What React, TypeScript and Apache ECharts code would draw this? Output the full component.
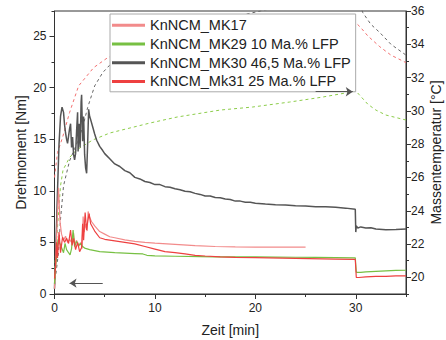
import React, { useEffect, useRef } from 'react';
import * as echarts from 'echarts';

// ---- names ----
const seriesNames = ['KnNCM_MK17', 'KnNCM_MK29 10 Ma.% LFP', 'KnNCM_MK30 46,5 Ma.% LFP', 'KnNCM_Mk31 25 Ma.% LFP'];

// ---- ticks ----
const xMajorTicks = [0, 10, 20, 30];
const yLeftMajorTicks = [0, 5, 10, 15, 20, 25];
const yRightMajorTicks = [20, 22, 24, 26, 28, 30, 32, 34, 36];

// ---- torque (left axis) ----
const mk17Time = [0, 0.15, 0.3, 0.4, 0.55, 0.7, 0.9, 1.1, 1.3, 1.5, 1.7, 1.9, 2.0, 2.2, 2.4, 2.6, 2.75, 2.85, 2.95, 3.1, 3.25, 3.35, 3.5, 3.7, 4.0, 4.5, 5, 5.5, 6, 7, 8, 9, 10, 12, 14, 16, 18, 20, 22, 24, 25];
const mk17Torque = [0.5, 4, 8, 10.3, 7, 5.8, 5.2, 5.6, 5.0, 5.3, 5.0, 5.9, 4.8, 5.2, 4.6, 5.0, 4.4, 7.5, 6.0, 6.8, 6.1, 8.0, 7.4, 7.0, 6.6, 6.05, 5.8, 5.55, 5.45, 5.25, 5.1, 5.0, 4.92, 4.8, 4.68, 4.6, 4.56, 4.55, 4.55, 4.55, 4.55];

const mk29Time = [0, 0.1, 0.25, 0.35, 0.5, 0.7, 0.9, 1.05, 1.2, 1.4, 1.55, 1.7, 1.85, 2.0, 2.2, 2.4, 2.6, 2.8, 3.0, 3.5, 4.5, 6, 8, 8.8, 9.2, 10, 12, 14.5, 16, 18, 20, 22, 24, 26, 28, 29.95, 30.05, 30.5, 31, 32, 33, 34, 35];
const mk29Torque = [1.0, 2.5, 4.2, 5.3, 5.0, 4.5, 4.0, 4.9, 4.3, 4.0, 3.8, 4.4, 6.2, 4.6, 5.1, 4.7, 4.9, 4.6, 4.45, 4.3, 4.1, 4.0, 3.92, 3.88, 3.75, 3.7, 3.66, 3.62, 3.6, 3.6, 3.6, 3.58, 3.56, 3.55, 3.53, 3.5, 2.1, 2.1, 2.15, 2.2, 2.25, 2.28, 2.3];

const mk30Time = [0, 0.15, 0.3, 0.45, 0.6, 0.75, 0.9, 1.0, 1.1, 1.2, 1.3, 1.4, 1.5, 1.6, 1.7, 1.8, 1.9, 2.0, 2.1, 2.2, 2.3, 2.35, 2.45, 2.55, 2.65, 2.7, 2.8, 2.9, 3.0, 3.1, 3.2, 3.3, 3.4, 3.5, 3.6, 3.8, 4.0, 4.2, 4.5, 4.8, 5.0, 5.5, 6.0, 6.5, 7.0, 7.5, 8.0, 8.5, 9.0, 9.5, 10, 10.5, 11, 11.5, 12, 12.5, 13, 13.5, 14, 14.5, 15, 15.5, 16, 16.5, 17, 17.5, 18, 18.5, 19, 19.5, 20, 21, 22, 23, 24, 25, 26, 27, 28, 29, 29.95, 30.0, 30.05, 30.2, 30.5, 31, 31.5, 32, 33, 34, 35];
const mk30Torque = [0.5, 5, 10, 14.5, 17.2, 18.1, 17.6, 16.4, 15.6, 15.0, 14.6, 15.3, 16.0, 16.5, 14.2, 15.2, 13.5, 13.0, 13.6, 15.8, 17.6, 13.8, 16.5, 14.2, 18.6, 19.3, 14.8, 17.2, 13.5, 12.2, 11.7, 14.5, 17.9, 17.2, 16.9, 16.2, 15.5, 14.9, 14.3, 13.9, 13.6, 13.1, 12.6, 12.35, 11.95, 11.75, 11.3, 11.15, 10.9, 10.8, 10.6, 10.6, 10.4, 10.35, 10.2, 10.1, 9.95, 9.9, 9.75, 9.65, 9.5, 9.5, 9.35, 9.33, 9.2, 9.15, 9.0, 9.0, 8.9, 8.88, 8.8, 8.72, 8.65, 8.62, 8.55, 8.52, 8.46, 8.46, 8.4, 8.32, 8.2, 6.0, 6.6, 6.4, 6.5, 6.4, 6.42, 6.3, 6.22, 6.25, 6.3];

const mk31Time = [0, 0.1, 0.2, 0.3, 0.45, 0.6, 0.8, 1.0, 1.2, 1.4, 1.6, 1.75, 1.9, 2.1, 2.3, 2.5, 2.7, 2.8, 2.9, 3.05, 3.2, 3.3, 3.45, 3.6, 4.0, 4.5, 5, 6, 7, 8, 9, 10, 11, 12, 13, 14, 15, 16.5, 18, 20, 24, 28, 29.95, 30.05, 30.3, 31, 32, 33, 34, 35];
const mk31Torque = [1.5, 2.5, 5, 3.5, 6.0, 4.0, 5.5, 5.0, 5.4, 4.9, 6.2, 4.7, 5.4, 4.3, 5.0, 4.1, 4.5, 6.8, 5.2, 7.9, 6.2, 7.0, 7.8, 6.8, 6.1, 5.45, 5.3, 5.15, 5.0, 4.85, 4.6, 4.35, 4.1, 4.0, 3.88, 3.75, 3.68, 3.6, 3.55, 3.52, 3.45, 3.38, 3.35, 1.6, 1.6, 1.65, 1.7, 1.7, 1.75, 1.75];

// ---- mass temperature (right axis) ----
const mk29TempTime = [0, 0.3, 0.6, 0.85, 1.5, 2.2, 3.8, 5.5, 9.5, 12.2, 16.5, 19.7, 23.4, 26.7, 29.5, 30, 30.3, 31.2, 32, 33, 35];
const mk29Temp = [20.5, 23.0, 25.5, 26.45, 27.2, 27.65, 28.25, 28.67, 29.27, 29.63, 30.05, 30.23, 30.53, 30.83, 31.13, 31.2, 31.0, 30.4, 30.05, 29.75, 29.45];

const mk30TempTime = [0, 0.4, 0.6, 0.9, 1.5, 2.2, 2.8, 3.3, 4.0, 4.8, 5.5, 8, 12, 16, 20.5, 25, 30, 30.7, 31.5, 32.4, 33.5, 35];
const mk30Temp = [19.5, 21.5, 23.5, 25.5, 27.0, 28.0, 29.0, 30.2, 31.5, 32.3, 32.75, 33.7, 34.6, 35.4, 36.0, 36.6, 37.2, 35.9, 35.2, 34.7, 34.0, 33.35];

const mk31TempTime = [0, 0.3, 0.8, 1.5, 2.4, 3.9, 5.3, 8, 12, 16, 20, 25, 30, 30.5, 31.2, 32.4, 33.5, 35];
const mk31Temp = [26.0, 27.5, 28.4, 29.9, 31.5, 32.6, 33.2, 33.8, 34.3, 34.6, 34.9, 35.1, 35.3, 35.0, 34.5, 33.85, 33.35, 32.9];

// ---- arrows (annotations) ----
const torqueArrow = { from: [4.8, 1.05], to: [1.5, 1.05] };
const tempArrow = { from: [26, 31.15], to: [29.7, 31.15] };

const zip = (t: number[], v: number[]) => t.map((x, i) => [x, v[i]]);

export default function App() {
  const ref = useRef<HTMLDivElement>(null);
  useEffect(() => {
    document.body.style.margin = '0';
    const chart = echarts.init(ref.current!, null, { renderer: 'svg' });
    const font = '"Liberation Sans", Arial, sans-serif';
    const ax = { color: '#333', width: 1 };
    const colors = ['#f28b8b', '#77c043', '#555555', '#ee4040'];
    const torqueLine = (i: number, t: number[], v: number[], w = 1.2) => ({
      type: 'line', name: seriesNames[i], data: zip(t, v), xAxisIndex: 0, yAxisIndex: 0,
      symbol: 'none', showSymbol: false, color: colors[i],
      lineStyle: { width: w, color: colors[i] },
    });
    const tempLine = (name: string, color: string, t: number[], v: number[]) => ({
      type: 'line', name, data: zip(t, v), xAxisIndex: 0, yAxisIndex: 2,
      symbol: 'none', showSymbol: false, color,
      lineStyle: { width: 1, color, type: [3, 3] },
    });
    const arrow = (yIdx: number, a: { from: number[]; to: number[] }) => ({
      type: 'line', name: 'arrow' + yIdx, data: [], xAxisIndex: 0, yAxisIndex: yIdx, z: 10,
      markLine: {
        silent: true, symbol: ['none', 'arrow'], symbolSize: 7,
        label: { show: false },
        lineStyle: { color: '#555', width: 1, type: 'solid' },
        data: [[{ coord: a.from }, { coord: a.to }]],
      },
    });
    chart.setOption({
      animation: false,
      textStyle: { fontFamily: font },
      grid: { left: 54.5, right: 40, top: 11, bottom: 46, show: true, borderColor: '#333', borderWidth: 1, containLabel: false, outerBoundsMode: 'none' },
      legend: {
        data: seriesNames, orient: 'vertical', left: 110, top: 14,
        padding: [2, 5, 1, 2], itemGap: 0, itemWidth: 33, itemHeight: 3, icon: 'rect',
        backgroundColor: '#fff', borderColor: '#aaa', borderWidth: 1,
        textStyle: { fontSize: 14.5, color: '#222', lineHeight: 18.7, fontFamily: font },
      },
      xAxis: [
        {
          type: 'value', min: 0, max: 35, interval: 5, position: 'bottom',
          axisLine: { show: true, onZero: false, lineStyle: ax },
          axisTick: { show: true, length: 3, lineStyle: ax },
          axisLabel: { show: false }, splitLine: { show: false },
        },
        {
          type: 'value', min: 0, max: 35, interval: 5, position: 'bottom',
          axisLine: { show: false, onZero: false },
          axisTick: { show: true, length: 5, customValues: xMajorTicks, lineStyle: ax },
          axisLabel: { show: true, customValues: xMajorTicks, fontSize: 12, color: '#222', margin: 8 },
          splitLine: { show: false },
          name: 'Zeit [min]', nameLocation: 'middle', nameGap: 29, nameMoveOverlap: false,
          nameTextStyle: { fontSize: 14, color: '#222' },
        },
      ],
      yAxis: [
        {
          type: 'value', min: 0, max: 27.42, interval: 2.5, position: 'left',
          axisLine: { show: true, onZero: false, lineStyle: ax },
          axisTick: { show: true, length: 3, lineStyle: ax },
          axisLabel: { show: false }, splitLine: { show: false },
        },
        {
          type: 'value', min: 0, max: 27.42, interval: 2.5, position: 'left',
          axisLine: { show: false, onZero: false },
          axisTick: { show: true, length: 5, customValues: yLeftMajorTicks, lineStyle: ax },
          axisLabel: { show: true, customValues: yLeftMajorTicks, fontSize: 12, color: '#222', margin: 8 },
          splitLine: { show: false },
          name: 'Drehmoment [Nm]', nameLocation: 'middle', nameGap: 27, nameMoveOverlap: false,
          nameTextStyle: { fontSize: 14, color: '#222' },
        },
        {
          type: 'value', min: 19, max: 36, interval: 1, position: 'right',
          axisLine: { show: true, onZero: false, lineStyle: ax },
          axisTick: { show: true, length: 3, lineStyle: ax },
          axisLabel: { show: false }, splitLine: { show: false },
        },
        {
          type: 'value', min: 19, max: 36, interval: 1, position: 'right',
          axisLine: { show: false, onZero: false },
          axisTick: { show: true, length: 5, customValues: yRightMajorTicks, lineStyle: ax },
          axisLabel: { show: true, customValues: yRightMajorTicks, fontSize: 12, color: '#222', margin: 5 },
          splitLine: { show: false },
          name: 'Massentemperatur [°C]', nameLocation: 'middle', nameGap: 23, nameMoveOverlap: false,
          nameTextStyle: { fontSize: 14, color: '#222' },
        },
      ],
      series: [
        tempLine('MK31 Temperatur', '#f27070', mk31TempTime, mk31Temp),
        tempLine('MK30 Temperatur', '#666666', mk30TempTime, mk30Temp),
        tempLine('MK29 Temperatur', '#8ccc4a', mk29TempTime, mk29Temp),
        torqueLine(2, mk30Time, mk30Torque, 1.5),
        torqueLine(0, mk17Time, mk17Torque),
        torqueLine(1, mk29Time, mk29Torque),
        torqueLine(3, mk31Time, mk31Torque),
        arrow(0, torqueArrow),
        arrow(2, tempArrow),
      ],
    });
    return () => chart.dispose();
  }, []);
  return <div ref={ref} style={{ width: 446, height: 340 }} />;
}
